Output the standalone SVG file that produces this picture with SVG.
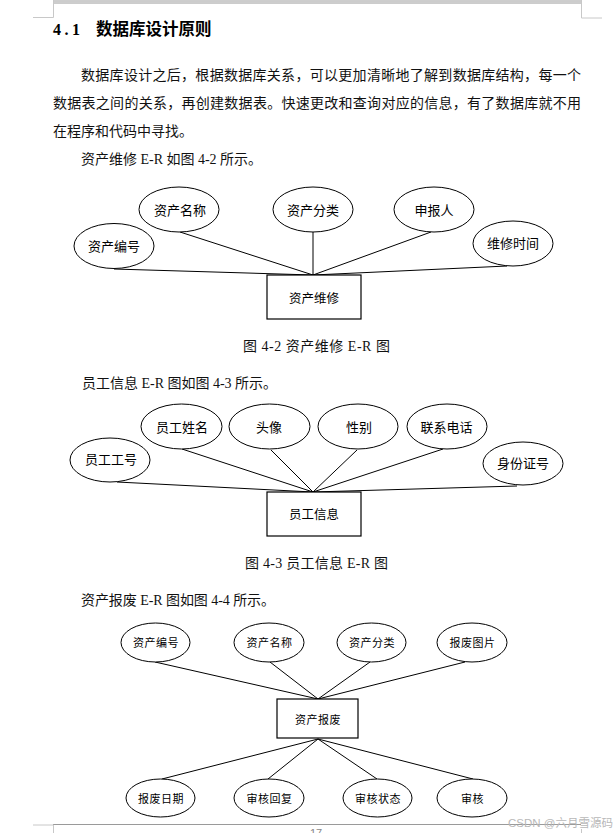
<svg xmlns="http://www.w3.org/2000/svg" width="616" height="833" viewBox="0 0 616 833">
<style>
.page{stroke:#9a9a9a;stroke-width:1;fill:none}
.pagel{stroke:#c8c8c8;stroke-width:1;fill:none}
.body{font-family:"Liberation Serif","Noto Sans CJK SC",serif;font-size:14px;fill:#111}
.title{font-family:"Liberation Serif","Noto Sans CJK SC",serif;font-size:16px;font-weight:bold;fill:#000}
.attr{fill:#fff;stroke:#000;stroke-width:1}
.ent{fill:#fff;stroke:#000;stroke-width:1.2}
.lbl{font-family:"Noto Sans CJK SC","Noto Sans",sans-serif;fill:#000;text-anchor:middle}
.l1{font-size:13px}
.l2{font-size:12.5px}
.l3{font-size:11px;letter-spacing:0.5px}
.conn line{stroke:#000;stroke-width:1}
.wm{font-family:"Liberation Sans","Noto Sans CJK SC",sans-serif;font-size:11.5px;fill:#b8b8b8}
</style>
<rect width="616" height="833" fill="#fff"/>
<!-- page decorations -->
<g id="page-frame">
<line class="page" x1="53" y1="1" x2="581" y2="1" stroke="#b0b0b0"/>
<line class="page" x1="53" y1="3" x2="581" y2="3" stroke="#808080"/>
<line class="pagel" x1="53.5" y1="0" x2="53.5" y2="17.5"/>
<line class="pagel" x1="33" y1="17.5" x2="53.5" y2="17.5"/>
<line class="pagel" x1="581.5" y1="0" x2="581.5" y2="18"/>
<line class="pagel" x1="581.5" y1="18" x2="602" y2="18"/>
<line class="page" x1="53" y1="824.5" x2="581" y2="824.5" stroke="#808080"/>
<line class="pagel" x1="33" y1="825" x2="53.5" y2="825"/>
<line class="pagel" x1="53.5" y1="825" x2="53.5" y2="833"/>
<line class="pagel" x1="581.5" y1="829" x2="581.5" y2="833"/>
<text x="316" y="837" text-anchor="middle" font-family="Liberation Sans,sans-serif" font-size="11" fill="#888">17</text>
</g>
<!-- text -->
<text class="title" y="35"><tspan x="53" letter-spacing="3.5">4.1</tspan><tspan x="96" font-family="Noto Sans CJK SC,sans-serif" font-size="16.5">数据库设计原则</tspan></text>
<text class="body" x="81" y="80" textLength="500" lengthAdjust="spacing">数据库设计之后，根据数据库关系，可以更加清晰地了解到数据库结构，每一个</text>
<text class="body" x="53" y="108" textLength="528" lengthAdjust="spacing">数据表之间的关系，再创建数据表。快速更改和查询对应的信息，有了数据库就不用</text>
<text class="body" x="53" y="136">在程序和代码中寻找。</text>
<text class="body" x="81" y="164" textLength="181" lengthAdjust="spacing">资产维修 E-R 如图 4-2 所示。</text>
<text class="body" x="243" y="351" textLength="147" lengthAdjust="spacing">图 4-2 资产维修 E-R 图</text>
<text class="body" x="82" y="388" textLength="195" lengthAdjust="spacing">员工信息 E-R 图如图 4-3 所示。</text>
<text class="body" x="245" y="568" textLength="143" lengthAdjust="spacing">图 4-3 员工信息 E-R 图</text>
<text class="body" x="81" y="605" textLength="194" lengthAdjust="spacing">资产报废 E-R 图如图 4-4 所示。</text>

<!-- connectors -->
<g id="connectors" class="conn">
<line x1="114" y1="269" x2="313" y2="275"/>
<line x1="180" y1="232" x2="313" y2="275"/>
<line x1="313" y1="232" x2="313" y2="275"/>
<line x1="431" y1="232" x2="313" y2="275"/>
<line x1="507" y1="266" x2="313" y2="275"/>

<line x1="117" y1="482" x2="313" y2="492"/>
<line x1="182" y1="449" x2="313" y2="492"/>
<line x1="271" y1="450" x2="313" y2="492"/>
<line x1="357" y1="450" x2="313" y2="492"/>
<line x1="443" y1="449" x2="313" y2="492"/>
<line x1="517" y1="486" x2="313" y2="492"/>

<line x1="155" y1="662" x2="318" y2="699"/>
<line x1="270" y1="662" x2="318" y2="699"/>
<line x1="370" y1="662" x2="318" y2="699"/>
<line x1="465" y1="662" x2="318" y2="699"/>

<line x1="318" y1="739" x2="162" y2="779"/>
<line x1="318" y1="739" x2="268" y2="779"/>
<line x1="318" y1="739" x2="377" y2="779"/>
<line x1="318" y1="739" x2="473" y2="779"/>
</g>

<!-- diagram 1 -->
<g id="e-zcwx"><rect class="ent" x="267" y="275" width="94" height="44"/><text class="lbl l2" x="314" y="302.5">资产维修</text></g>
<g id="a1-zcbh"><ellipse class="attr" cx="114" cy="246" rx="40" ry="22.5"/><text class="lbl l1" x="114" y="251">资产编号</text></g>
<g id="a1-zcmc"><ellipse class="attr" cx="179" cy="209.5" rx="40" ry="22.5"/><text class="lbl l1" x="180" y="215">资产名称</text></g>
<g id="a1-zcfl"><ellipse class="attr" cx="313" cy="209.5" rx="40" ry="22.5"/><text class="lbl l1" x="313" y="215">资产分类</text></g>
<g id="a1-sbr"><ellipse class="attr" cx="434" cy="209.5" rx="40" ry="22.5"/><text class="lbl l1" x="434" y="215">申报人</text></g>
<g id="a1-wxsj"><ellipse class="attr" cx="513" cy="243.5" rx="40" ry="22.5"/><text class="lbl l1" x="513" y="248">维修时间</text></g>

<!-- diagram 2 -->
<g id="e-ygxx"><rect class="ent" x="267" y="492" width="94" height="44"/><text class="lbl l2" x="314" y="518.5" font-size="11.5">员工信息</text></g>
<g id="a2-yggh"><ellipse class="attr" cx="110" cy="460" rx="40" ry="22"/><text class="lbl l1" x="111" y="464">员工工号</text></g>
<g id="a2-ygxm"><ellipse class="attr" cx="181.5" cy="426.5" rx="40.5" ry="22.5"/><text class="lbl l1" x="182" y="431.5">员工姓名</text></g>
<g id="a2-tx"><ellipse class="attr" cx="269.5" cy="426.5" rx="40.5" ry="22.5"/><text class="lbl l1" x="269" y="431.5">头像</text></g>
<g id="a2-xb"><ellipse class="attr" cx="358" cy="426.5" rx="40" ry="22.5"/><text class="lbl l1" x="359" y="431.5">性别</text></g>
<g id="a2-lxdh"><ellipse class="attr" cx="447" cy="426.5" rx="40" ry="22.5"/><text class="lbl l1" x="446.5" y="431.5">联系电话</text></g>
<g id="a2-sfzh"><ellipse class="attr" cx="523" cy="463.5" rx="40" ry="21.5"/><text class="lbl l1" x="523" y="467.5">身份证号</text></g>

<!-- diagram 3 -->
<g id="e-zcbf"><rect class="ent" x="277" y="699" width="81" height="39"/><text class="lbl l3" x="318" y="723.5">资产报废</text></g>
<g id="a3-zcbh"><ellipse class="attr" cx="155.5" cy="642.5" rx="34.5" ry="19.5"/><text class="lbl l3" x="156" y="647">资产编号</text></g>
<g id="a3-zcmc"><ellipse class="attr" cx="269" cy="642.5" rx="35" ry="19.5"/><text class="lbl l3" x="269.5" y="647">资产名称</text></g>
<g id="a3-zcfl"><ellipse class="attr" cx="371.5" cy="642.5" rx="34.5" ry="19.5"/><text class="lbl l3" x="372" y="647">资产分类</text></g>
<g id="a3-bftp"><ellipse class="attr" cx="472" cy="642.5" rx="35" ry="19.5"/><text class="lbl l3" x="472.5" y="647">报废图片</text></g>
<g id="a3-bfrq"><ellipse class="attr" cx="160.5" cy="798" rx="34.5" ry="19"/><text class="lbl l3" x="161" y="802.5">报废日期</text></g>
<g id="a3-shhf"><ellipse class="attr" cx="269" cy="798" rx="35" ry="19"/><text class="lbl l3" x="269.5" y="802.5">审核回复</text></g>
<g id="a3-shzt"><ellipse class="attr" cx="377.5" cy="798" rx="34.5" ry="19"/><text class="lbl l3" x="378" y="802.5">审核状态</text></g>
<g id="a3-sh"><ellipse class="attr" cx="472" cy="798" rx="35" ry="19"/><text class="lbl l3" x="472.5" y="802.5">审核</text></g>

<text class="wm" x="508" y="827">CSDN @六月雪源码</text>
</svg>
